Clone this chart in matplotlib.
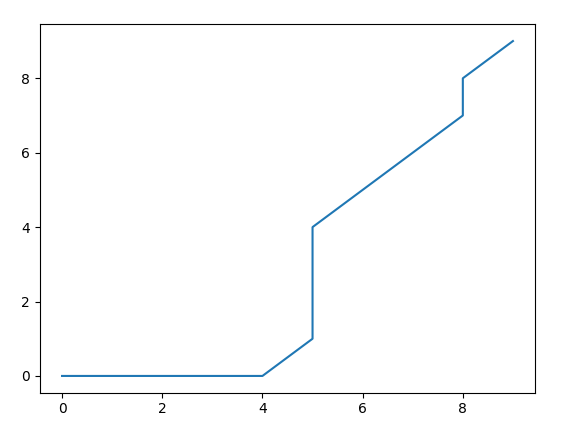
import matplotlib
matplotlib.use("Agg")
import matplotlib.pyplot as plt

# Data
x_values = [0, 1, 2, 3, 4, 5, 5, 6, 7, 8, 8, 9]
y_values = [0, 0, 0, 0, 0, 1, 4, 5, 6, 7, 8, 9]

fig, ax = plt.subplots(figsize=(5.62, 4.32), dpi=100)
ax.plot(x_values, y_values)

# match the reference's axes placement
fig.subplots_adjust(left=0.0703, right=0.9528, top=0.9437, bottom=0.091)

fig.savefig("out.png", dpi=100)
